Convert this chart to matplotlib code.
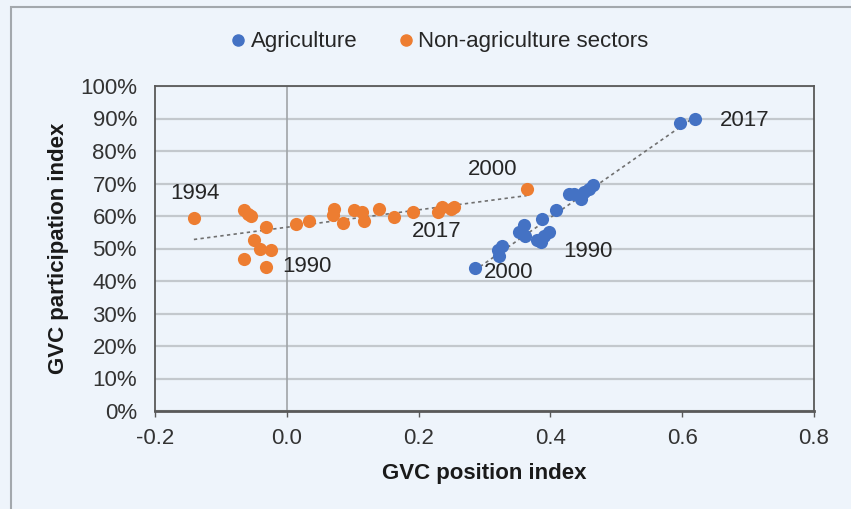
import numpy as np
import matplotlib
matplotlib.use("Agg")
import matplotlib.pyplot as plt
from matplotlib.patches import Rectangle
from matplotlib.lines import Line2D

# GVC position index (x) and participation index (y, %) by year
agri_x = [0.285, 0.320, 0.322, 0.327, 0.352, 0.360, 0.362, 0.380, 0.385, 0.390,
          0.398, 0.388, 0.408, 0.428, 0.436, 0.446, 0.451, 0.458, 0.464, 0.597, 0.620]
agri_y = [44.0, 49.4, 47.8, 50.9, 55.0, 57.1, 54.0, 52.5, 52.0, 54.0,
          55.0, 59.2, 61.7, 66.9, 66.9, 65.3, 67.4, 68.4, 69.4, 88.5, 89.7]

nonagri_x = [-0.141, -0.065, -0.059, -0.054, -0.031, -0.050, -0.040, -0.024, -0.065, -0.031,
             0.014, 0.034, 0.072, 0.070, 0.085, 0.102, 0.114, 0.117, 0.140, 0.162,
             0.191, 0.229, 0.236, 0.249, 0.254, 0.364]
nonagri_y = [59.5, 62.0, 60.7, 59.9, 56.6, 52.7, 49.9, 49.6, 46.7, 44.4,
             57.4, 58.6, 62.2, 60.2, 57.8, 61.9, 61.2, 58.6, 62.2, 59.7,
             61.2, 61.2, 62.7, 62.2, 62.7, 68.4]

# year labels: (text, x, y)
year_labels = [("1994", -0.139, 66.8), ("1990", 0.031, 44.6), ("2017", 0.228, 55.1),
               ("2000", 0.313, 74.2), ("2000", 0.336, 42.5), ("1990", 0.457, 49.2),
               ("2017", 0.695, 89.5)]

blue = "#4472C4"
orange = "#ED7D31"
bg = "#EEF4FB"

plt.rcParams['font.family'] = ['Liberation Sans', 'DejaVu Sans']

fig = plt.figure(figsize=(8.51, 5.09), dpi=100, facecolor=bg)
W, H = 851, 509
ax = fig.add_axes([155 / W, (H - 411) / H, (814 - 155) / W, (411 - 86) / H])
ax.set_facecolor(bg)

# outer frame
fig.patches.append(Rectangle((11 / W, -0.05), 1.2, (H - 7) / H + 0.05, transform=fig.transFigure,
                             fill=False, edgecolor="#A3A8AD", linewidth=1.5))

ax.set_xlim(-0.2, 0.8)
ax.set_ylim(0, 100)
ax.set_xticks(np.arange(-0.2, 0.81, 0.2))
ax.set_xticklabels(["-0.2", "0.0", "0.2", "0.4", "0.6", "0.8"])
ax.set_yticks(range(0, 101, 10))
ax.set_yticklabels([f"{v}%" for v in range(0, 101, 10)])
ax.tick_params(axis="both", labelsize=16, colors="#333333")
ax.tick_params(axis="x", length=4, width=1, color="#595959", pad=8)
ax.tick_params(axis="y", length=0, pad=13)

ax.grid(axis="y", color="#C3C8CD", linewidth=1.6)
ax.axvline(0, color="#A0A4A8", linewidth=1.2)
ax.set_axisbelow(True)
for s in ax.spines.values():
    s.set_color("#595959")
    s.set_linewidth(1.3)
ax.spines["bottom"].set_linewidth(2)

# trendlines
for xs, ys in [(nonagri_x, nonagri_y), (agri_x, agri_y)]:
    k, b = np.polyfit(xs, ys, 1)
    xx = np.array([min(xs), max(xs)])
    ax.plot(xx, k * xx + b, linestyle=(0, (2, 2)), color="#707070", linewidth=1.2, zorder=2)

ax.scatter(agri_x, agri_y, s=90, color=blue, zorder=3, linewidths=0)
ax.scatter(nonagri_x, nonagri_y, s=90, color=orange, zorder=3, linewidths=0)

for t, x, y in year_labels:
    ax.text(x, y, t, fontsize=16, color="#262626", ha="center", va="center")

ax.set_xlabel("GVC position index", fontsize=16, fontweight="bold", labelpad=10, color="#1a1a1a")
ax.set_ylabel("GVC participation index", fontsize=16, fontweight="bold", labelpad=8, color="#1a1a1a")

handles = [Line2D([], [], marker="o", linestyle="", color=blue, markersize=8),
           Line2D([], [], marker="o", linestyle="", color=orange, markersize=8)]
fig.legend(handles, ["Agriculture", "Non-agriculture sectors"], loc="center",
           bbox_to_anchor=(439 / W, 1 - 42 / H), ncol=2, frameon=False, fontsize=16,
           handletextpad=0.15, columnspacing=1.8, handlelength=0.8, labelcolor="#262626")

fig.savefig("out.png", dpi=100, facecolor=bg)
